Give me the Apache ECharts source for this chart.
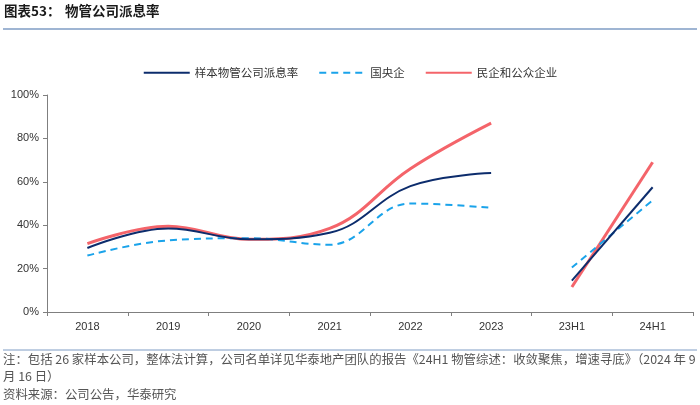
<!DOCTYPE html>
<html>
<head>
<meta charset="utf-8">
<script src="https://cdn.jsdelivr.net/npm/echarts@6/dist/echarts.min.js"></script>
<style>
html,body{margin:0;padding:0;background:#fff;}
#chart{width:700px;height:405px;}
</style>
</head>
<body>
<div id="chart"></div>
<script>
const categories = ['2018','2019','2020','2021','2022','2023','23H1','24H1'];
const seriesNames = ['样本物管公司派息率','国央企','民企和公众企业'];
// annual values (2018-2023), %
const sampleAnnual = [29.5, 38.5, 33.5, 36.5, 58, 64];
const soeAnnual = [26, 33, 34, 31, 50, 48];
const privateAnnual = [31.5, 39.5, 33.5, 38.5, 66, 87];
// half-year values (23H1, 24H1), %
const sampleHalf = [14.5, 57.5];
const soeHalf = [20.5, 51.5];
const privateHalf = [11.5, 69];
const yTicks = [0, 20, 40, 60, 80, 100];

const colors = ['#0c2c6c', '#1aa3ea', '#f4646a'];
const widths = [2, 2, 3];
const types = ['solid', [7, 5], 'solid'];

function annual(arr){ return arr.concat(['-','-']); }
function half(arr){ return ['-','-','-','-','-','-'].concat(arr); }

const annualData = [sampleAnnual, soeAnnual, privateAnnual];
const halfData = [sampleHalf, soeHalf, privateHalf];
const series = [];
for (let i = 0; i < 3; i++) {
  const common = {
    name: seriesNames[i], type: 'line', smooth: 0.4, symbol: 'none', showSymbol: false,
    lineStyle: { color: colors[i], width: widths[i], type: types[i] },
    itemStyle: { color: colors[i] },
    z: i === 0 ? 4 : (i === 1 ? 3 : 2)
  };
  series.push(Object.assign({}, common, { data: annual(annualData[i]) }));
  series.push(Object.assign({}, common, { data: half(halfData[i]) }));
}

const chart = echarts.init(document.getElementById('chart'), null, { renderer: 'canvas' });
const font = 'Arial, "Liberation Sans", "Noto Sans CJK SC", sans-serif';
const cjk = '"Noto Sans CJK SC", sans-serif';
chart.setOption({
  animation: false,
  backgroundColor: '#fff',
  grid: { left: 47, right: 7, top: 95, bottom: 93 },
  legend: {
    data: seriesNames.map(n => ({ name: n })),
    top: 62, left: 'center',
    itemWidth: 46, itemHeight: 12, itemGap: 20,
    itemStyle: { opacity: 0 },
    textStyle: { fontFamily: cjk, fontSize: 11.5, color: '#333' }
  },
  xAxis: {
    type: 'category', data: categories, boundaryGap: true,
    axisLine: { lineStyle: { color: '#7f7f7f', width: 1 } },
    axisTick: { show: true, length: 4, lineStyle: { color: '#7f7f7f' } },
    axisLabel: { fontFamily: font, fontSize: 11, color: '#333', margin: 9 }
  },
  yAxis: {
    type: 'value', min: 0, max: 100, interval: 20,
    axisLine: { show: true, lineStyle: { color: '#7f7f7f', width: 1 } },
    axisTick: { show: true, length: 4, lineStyle: { color: '#7f7f7f' } },
    splitLine: { show: false },
    axisLabel: { fontFamily: font, fontSize: 11, color: '#333', margin: 8,
      formatter: v => yTicks.indexOf(v) >= 0 ? v + '%' : '' }
  },
  series: series,
  graphic: [
    { type: 'text', left: 4, top: 4, style: { text: '图表53：', font: 'bold 13.5px ' + cjk, fill: '#1a1a1a' } },
    { type: 'text', left: 65, top: 4, style: { text: '物管公司派息率', font: 'bold 13.5px ' + cjk, fill: '#1a1a1a' } },
    { type: 'line', shape: { x1: 3, y1: 29, x2: 697, y2: 29 }, style: { stroke: '#7f9cc4', lineWidth: 1.5 } },
    { type: 'line', shape: { x1: 3, y1: 350, x2: 697, y2: 350 }, style: { stroke: '#7f9cc4', lineWidth: 1 } },
    { type: 'text', left: 3, top: 353, style: { text: '注：包括 26 家样本公司，整体法计算，公司名单详见华泰地产团队的报告《24H1 物管综述：收敛聚焦，增速寻底》（2024 年 9', font: '12.4px ' + cjk, fill: '#555' } },
    { type: 'text', left: 3, top: 370, style: { text: '月 16 日）', font: '12.4px ' + cjk, fill: '#555' } },
    { type: 'text', left: 3, top: 388, style: { text: '资料来源：公司公告，华泰研究', font: '12.4px ' + cjk, fill: '#555' } }
  ]
});
</script>
</body>
</html>
